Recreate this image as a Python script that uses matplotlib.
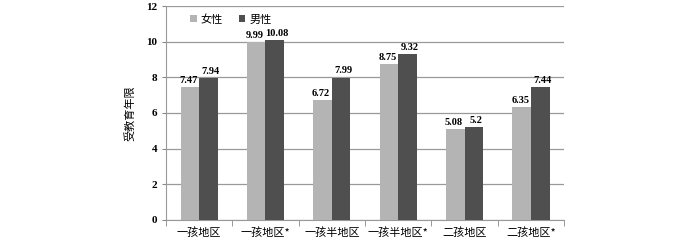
import matplotlib
matplotlib.use("Agg")
import matplotlib.pyplot as plt
import numpy as np

categories = ["一孩地区", "一孩地区*", "一孩半地区", "一孩半地区*", "二孩地区", "二孩地区*"]
female = [7.47, 9.99, 6.72, 8.75, 5.08, 6.35]
male = [7.94, 10.08, 7.99, 9.32, 5.2, 7.44]
female_labels = ["7.47", "9.99", "6.72", "8.75", "5.08", "6.35"]
male_labels = ["7.94", "10.08", "7.99", "9.32", "5.2", "7.44"]
yticks = [0, 2, 4, 6, 8, 10, 12]

cjk = ["Noto Sans CJK SC", "DejaVu Sans"]
serif = ["Liberation Serif", "DejaVu Serif"]

fig = plt.figure(figsize=(7, 2.43), dpi=100)
ax = fig.add_axes([0.237, 0.095, 0.569, 0.88])

x = np.arange(len(categories))
w = 0.28
c_f = "#b4b4b4"
c_m = "#4f4f4f"
ax.bar(x - w/2, female, w, color=c_f, label="女性", zorder=3)
ax.bar(x + w/2, male, w, color=c_m, label="男性", zorder=3)

for xi, v, s in zip(x - w/2, female, female_labels):
    ax.annotate(s, (xi, v), xytext=(-1, 1.5), textcoords="offset points", ha="center", va="bottom",
                fontsize=7.5, fontweight="bold", family=serif, zorder=4)
for xi, v, s in zip(x + w/2, male, male_labels):
    ax.annotate(s, (xi, v), xytext=(1.5, 1.5), textcoords="offset points", ha="center", va="bottom",
                fontsize=7.5, fontweight="bold", family=serif, zorder=4)

ax.set_xlim(-0.5, len(categories) - 0.5)
ax.set_ylim(0, 12)
ax.set_yticks(yticks)
ax.set_yticklabels([str(t) for t in yticks], fontsize=8, fontweight="bold", family=serif)
ax.set_xticks(x)
ax.set_xticklabels(categories, fontsize=8, family=cjk)
ax.tick_params(axis="x", length=0, pad=5)
ax.set_xticks(np.arange(len(categories) + 1) - 0.5, minor=True)
ax.tick_params(axis="x", which="minor", length=4, color="#888888")
ax.tick_params(axis="y", length=3, color="#888888", pad=3)
ax.grid(axis="y", color="#999999", linewidth=0.9, zorder=0)
for sp in ["top", "right"]:
    ax.spines[sp].set_visible(False)
ax.spines["left"].set_color("#999999")
ax.spines["bottom"].set_color("#999999")
ax.set_ylabel("受教育年限", fontsize=8, family=cjk, labelpad=8)

ax.legend(loc="upper left", bbox_to_anchor=(0.035, 1.01), ncol=2, frameon=False,
          prop={"family": cjk, "size": 8}, handlelength=0.6, handleheight=0.6,
          handletextpad=0.4, columnspacing=1.4)

fig.savefig("out.png", dpi=100)
